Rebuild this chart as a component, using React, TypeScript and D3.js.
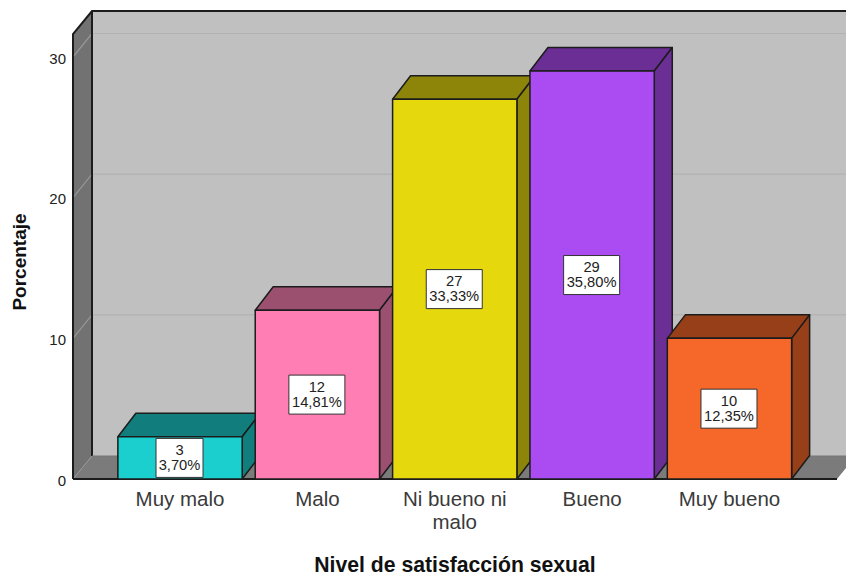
import React from "react";
import * as d3 from "d3";

const categories = ["Muy malo", "Malo", "Ni bueno ni malo", "Bueno", "Muy bueno"];
const counts = [3, 12, 27, 29, 10];
const percentLabels = ["3,70%", "14,81%", "33,33%", "35,80%", "12,35%"];
const frontColors = ["#1bcfcf", "#ff7eb3", "#e5d90e", "#aa4cf2", "#f5682a"];
const sideColors = ["#117d7d", "#9c5070", "#8c850a", "#6a2e95", "#973f19"];
const yTicks = [0, 10, 20, 30];

const WIDTH = 846;
const HEIGHT = 576;
const DX = 19;
const DY = -23;
const BAR_DX = 18;
const BAR_DY = -23.5;
const FONT = "'Liberation Sans', Arial, sans-serif";
const EDGE = "#1c1c1c";

const y = d3.scaleLinear().domain([0, 30]).range([479, 57]);
const x = d3.scaleBand<string>().domain(categories).range([111, 798.5]).paddingInner(0.095).paddingOuter(0.05);

const poly = (pts: [number, number][]) => pts.map((p) => p.join(",")).join(" ");

export default function App() {
  const wallLeft = 73;
  const wallTop = 34;
  const base = y(0);
  return (
    <svg
      width={WIDTH}
      height={HEIGHT}
      viewBox={`0 0 ${WIDTH} ${HEIGHT}`}
      style={{ position: "absolute", left: 0, top: 0, background: "#fff" }}
    >
      {/* back wall */}
      <rect x={wallLeft + DX} y={wallTop + DY} width={WIDTH} height={base - wallTop} fill="#c0c0c0" />
      {/* left wall */}
      <polygon
        points={poly([
          [wallLeft, wallTop],
          [wallLeft + DX, wallTop + DY],
          [wallLeft + DX, base + DY],
          [wallLeft, base],
        ])}
        fill="#727272"
      />
      {/* floor */}
      <polygon
        points={poly([
          [wallLeft, base],
          [wallLeft + DX, base + DY],
          [WIDTH + 10, base + DY],
          [WIDTH + 10 - DX, base],
        ])}
        fill="#7b7b7b"
      />
      {/* gridlines across walls */}
      {yTicks.slice(1).map((t) => (
        <g key={t} fill="none" strokeWidth={1.2}>
          <line x1={wallLeft} y1={y(t)} x2={wallLeft + DX} y2={y(t) + DY - 0.5} stroke="#969696" />
          <line x1={wallLeft + DX} y1={y(t) + DY - 0.5} x2={WIDTH} y2={y(t) + DY - 0.5} stroke="#b2b2b2" />
        </g>
      ))}
      <line x1={wallLeft} y1={base} x2={wallLeft + DX} y2={base + DY} stroke="#969696" strokeWidth={1} />
      {/* wall outlines */}
      <g fill="none" stroke={EDGE} strokeWidth={2}>
        <polyline
          points={poly([
            [wallLeft, base],
            [wallLeft, wallTop],
            [wallLeft + DX, wallTop + DY],
            [WIDTH, wallTop + DY],
          ])}
        />
        <line x1={wallLeft + DX} y1={wallTop + DY} x2={wallLeft + DX} y2={base + DY} />
        <line x1={wallLeft + DX} y1={base + DY} x2={WIDTH} y2={base + DY} strokeWidth={1} stroke="#777" />
        <line x1={wallLeft} y1={base} x2={837} y2={base} />
      </g>
      {/* y axis */}
      <g fontFamily={FONT} fontSize={15} fill="#222" textAnchor="end">
        {yTicks.map((t) => (
          <text key={t} x={66} y={y(t) + 6.5}>
            {t}
          </text>
        ))}
      </g>
      {/* bars */}
      {categories.map((c, i) => {
        const x0 = x(c)!;
        const x1 = x0 + x.bandwidth();
        const top = y(counts[i]);
        const cx = (x0 + x1) / 2 - 0.5;
        const cy = (top + base) / 2;
        const boxW = percentLabels[i].length > 5 ? 56 : 47;
        return (
          <g key={c} stroke={EDGE} strokeWidth={1.5} strokeLinejoin="round">
            <polygon
              points={poly([
                [x0, top],
                [x0 + BAR_DX, top + BAR_DY],
                [x1 + BAR_DX, top + BAR_DY],
                [x1, top],
              ])}
              fill={sideColors[i]}
            />
            <polygon
              points={poly([
                [x1, top],
                [x1 + BAR_DX, top + BAR_DY],
                [x1 + BAR_DX, base + BAR_DY],
                [x1, base],
              ])}
              fill={sideColors[i]}
            />
            <rect x={x0} y={top} width={x.bandwidth()} height={base - top} fill={frontColors[i]} />
            <rect x={cx - boxW / 2} y={cy - 19.5} width={boxW} height={39} fill="#fff" stroke="#333" strokeWidth={1} />
            {/* count and percentage share one two-line label */}
            <text textAnchor="middle" fontFamily={FONT} fontSize={14.7} fill="#222" stroke="none">
              <tspan x={cx} y={cy - 3}>
                {counts[i]}
              </tspan>
              <tspan x={cx} y={cy + 12}>
                {percentLabels[i]}
              </tspan>
            </text>
          </g>
        );
      })}
      {/* category labels */}
      <g fontFamily={FONT} fontSize={20.5} fill="#3a3a3a" textAnchor="middle">
        {categories.map((c) => {
          const cx = x(c)! + x.bandwidth() / 2;
          const lines = c === "Ni bueno ni malo" ? ["Ni bueno ni", "malo"] : [c];
          return (
            <text key={c} x={cx} y={506}>
              {lines.map((l, j) => (
                <tspan key={l} x={cx} dy={j === 0 ? 0 : 23}>
                  {l}
                </tspan>
              ))}
            </text>
          );
        })}
      </g>
      {/* axis titles */}
      <text
        x={455}
        y={572}
        textAnchor="middle"
        fontFamily={FONT}
        fontWeight="bold"
        fontSize={21.2}
        fill="#111"
      >
        Nivel de satisfacción sexual
      </text>
      <text
        transform="translate(26,262) rotate(-90)"
        textAnchor="middle"
        fontFamily={FONT}
        fontWeight="bold"
        fontSize={19}
        fill="#111"
      >
        Porcentaje
      </text>
    </svg>
  );
}
